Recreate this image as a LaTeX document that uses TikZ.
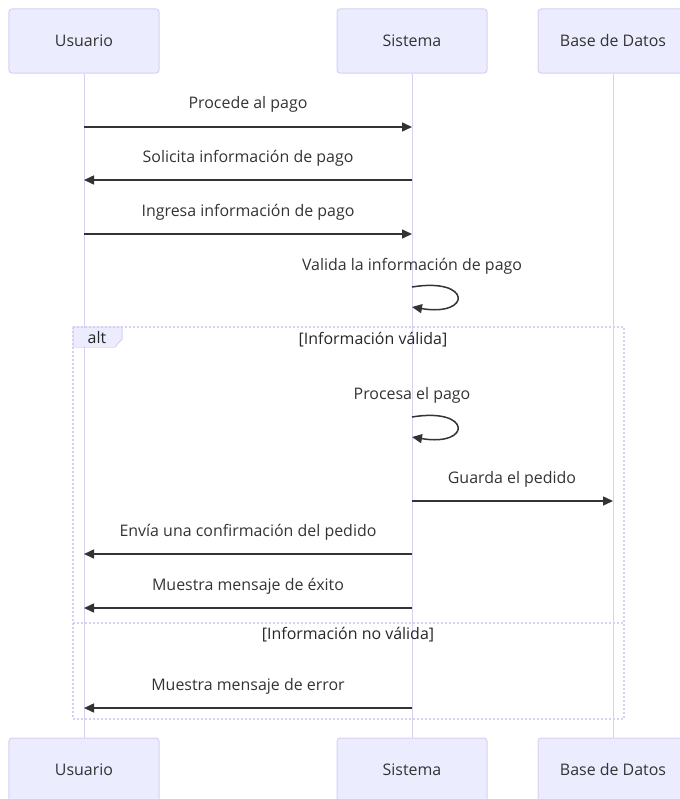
\documentclass[tikz,border=0pt]{standalone}
\usepackage{fontspec}
\setmainfont{Open Sans}
\usetikzlibrary{arrows.meta}
\definecolor{actorfill}{HTML}{ECECFF}
\definecolor{actorline}{HTML}{D9CFF4}
\definecolor{txt}{HTML}{333333}
\tikzset{
  actor/.style={draw=actorline, fill=actorfill, rounded corners=3bp, line width=1bp,
    minimum width=150bp, minimum height=64bp, inner sep=0pt, text=txt,
    font=\fontsize{16}{19}\selectfont},
  lifeline/.style={draw=actorline, line width=1bp},
  msg/.style={draw=txt, line width=1.5bp, -{Triangle[length=10bp,width=9bp]}},
  msgtext/.style={text=txt, font=\fontsize{16}{19}\selectfont, inner sep=0pt},
  altline/.style={draw=actorline, line width=2bp, dash pattern=on 2bp off 2bp},
  alttext/.style={text=black!85, font=\fontsize{16}{19}\selectfont, inner sep=0pt}
}
\begin{document}
\begin{tikzpicture}[x=1bp, y=-1bp]
\useasboundingbox (0,0) rectangle (680,799);

% participants (top and bottom)
\node[actor] (u1) at (84,41) {Usuario};
\node[actor] (s1) at (412,41) {Sistema};
\node[actor] (d1) at (613,41) {Base de Datos};
\node[actor] (u2) at (84,770) {Usuario};
\node[actor] (s2) at (412,770) {Sistema};
\node[actor] (d2) at (613,770) {Base de Datos};

% lifelines
\draw[lifeline] (u1.south) -- (u2.north);
\draw[lifeline] (s1.south) -- (s2.north);
\draw[lifeline] (d1.south) -- (d2.north);

% alt fragment with its label tab and section conditions
\draw[altline] (73,327) rectangle (624,719);
\draw[altline] (73,623) -- (624,623);
\fill[actorfill] (74,328) -- (122,328) -- (122,339) -- (115,346) -- (74,346) -- cycle;
\draw[actorline, line width=1bp] (73,327) -- (122,327) -- (122,339) -- (115,347) -- (73,347) -- cycle;
\node[alttext] (altlbl) at (97,338) {alt};
\node[alttext] (cond1) at (373,340) {[Información válida]};
\node[alttext] (cond2) at (348,635) {[Información no válida]};

% message end points on the lifelines
\coordinate (u-a) at (84,127);  \coordinate (s-a) at (412,127);
\coordinate (u-b) at (84,180);  \coordinate (s-b) at (412,180);
\coordinate (u-c) at (84,234);  \coordinate (s-c) at (412,234);
\coordinate (s-d1) at (412,287); \coordinate (s-d2) at (412,307);
\coordinate (s-e1) at (412,417); \coordinate (s-e2) at (412,437);
\coordinate (s-f) at (412,501); \coordinate (d-f) at (613,501);
\coordinate (u-g) at (84,554);  \coordinate (s-g) at (412,554);
\coordinate (u-h) at (84,608);  \coordinate (s-h) at (412,608);
\coordinate (u-i) at (84,708);  \coordinate (s-i) at (412,708);

% messages
\node[msgtext] (ta) at (248,104) {Procede al pago};
\draw[msg] (u-a) -- (s-a);
\node[msgtext] (tb) at (248,158) {Solicita información de pago};
\draw[msg] (s-b) -- (u-b);
\node[msgtext] (tc) at (248,212) {Ingresa información de pago};
\draw[msg] (u-c) -- (s-c);
\node[msgtext] (td) at (412,266) {Valida la información de pago};
\draw[msg] (s-d1) .. controls (472,277) and (472,317) .. (s-d2);
\node[msgtext] (te) at (412,395) {Procesa el pago};
\draw[msg] (s-e1) .. controls (472,407) and (472,447) .. (s-e2);
\node[msgtext] (tf) at (512,479) {Guarda el pedido};
\draw[msg] (s-f) -- (d-f);
\node[msgtext] (tg) at (248,532) {Envía una confirmación del pedido};
\draw[msg] (s-g) -- (u-g);
\node[msgtext] (th) at (248,586) {Muestra mensaje de éxito};
\draw[msg] (s-h) -- (u-h);
\node[msgtext] (ti) at (248,686) {Muestra mensaje de error};
\draw[msg] (s-i) -- (u-i);
\end{tikzpicture}
\end{document}
